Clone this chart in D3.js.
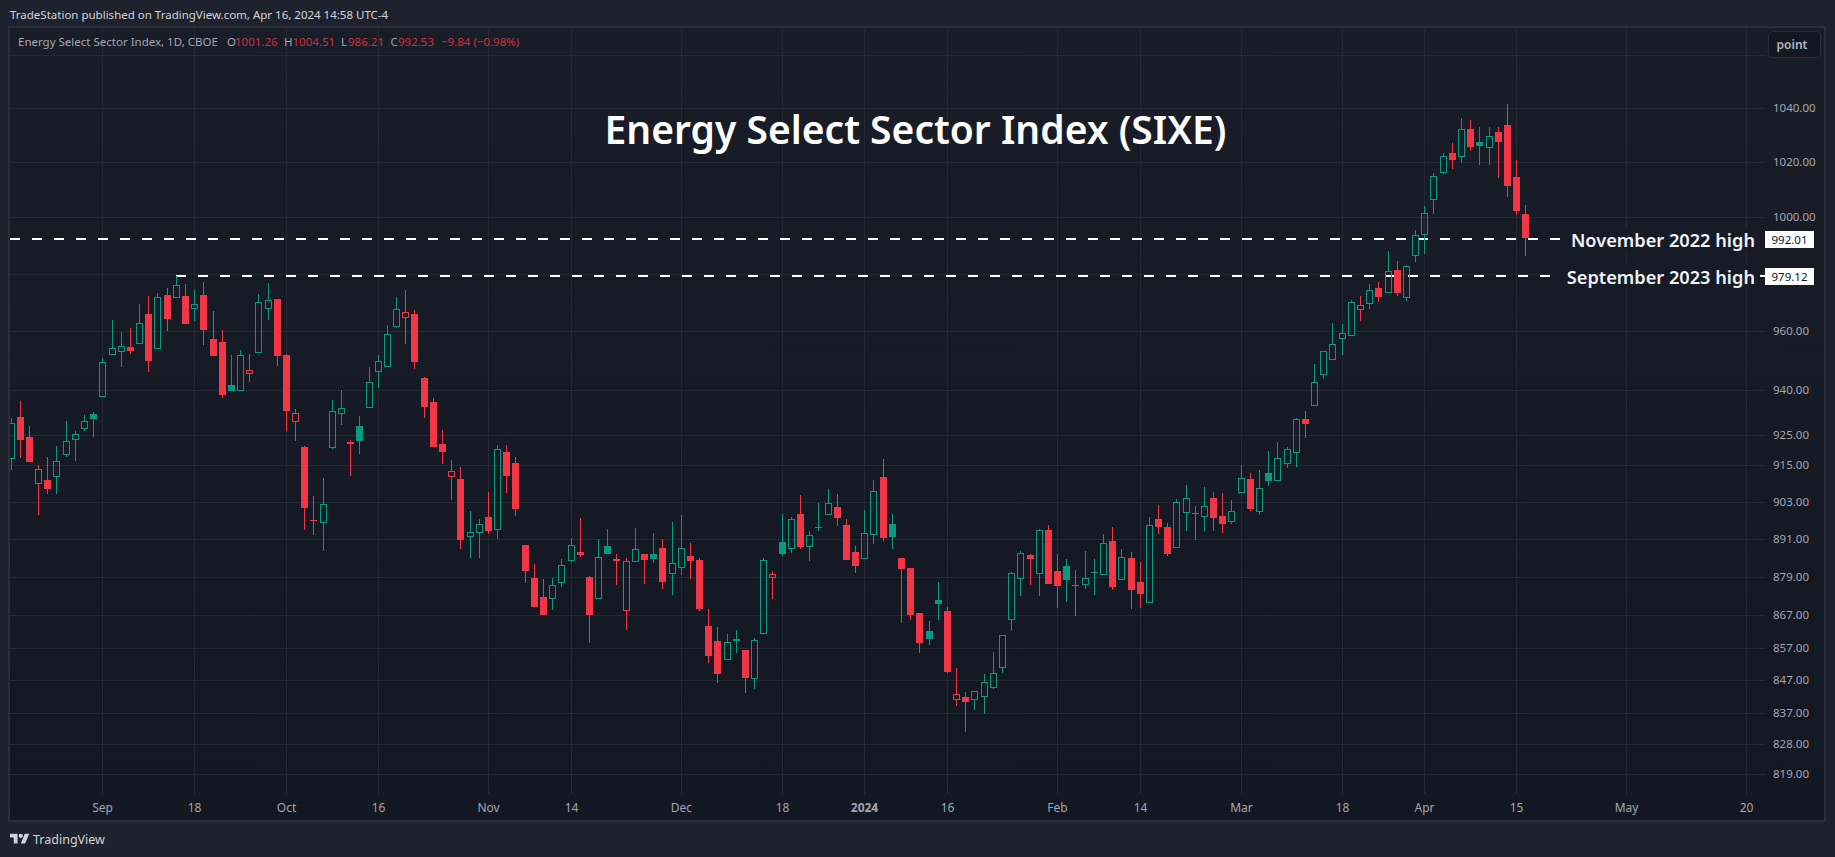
<!DOCTYPE html>
<html>
<head>
<meta charset="utf-8">
<script src="https://cdn.jsdelivr.net/npm/d3@7"></script>
<style>
  html, body { margin: 0; padding: 0; background: #1e222d; overflow: hidden; }
  svg { display: block; font-family: "Noto Sans", sans-serif; }
</style>
</head>
<body>
<div id="chart"></div>
<script>
// daily candles, Aug 2023 -> Apr 16 2024
const opens = [917.4,930.9,924.2,909.2,910.1,911.5,918.7,923.7,927.3,931.9,938.0,952.3,953.3,954.5,956.0,966.0,954.3,972.6,972.0,972.2,968.1,972.6,957.3,956.3,941.6,939.9,945.8,953.0,968.1,971.0,951.8,929.7,920.9,897.1,896.6,921.0,932.3,922.6,927.9,934.3,946.3,948.2,961.9,965.0,966.0,944.0,935.9,921.9,911.5,910.4,892.0,893.3,898.1,894.3,919.2,915.7,889.1,878.6,872.6,872.4,877.5,884.4,886.8,879.0,872.4,888.7,884.6,868.7,884.1,886.2,886.2,888.1,880.3,882.2,885.6,884.3,863.6,859.0,853.6,859.6,856.2,847.8,861.5,878.9,890.0,888.2,899.0,888.8,894.5,899.1,901.3,895.5,886.8,885.1,892.7,911.1,895.8,884.9,881.8,867.6,862.1,871.7,868.2,841.4,841.9,841.4,842.3,845.0,851.1,865.9,878.7,885.9,880.3,893.9,880.8,882.4,876.4,876.8,880.2,880.0,890.3,878.4,884.9,877.4,871.2,897.4,894.8,888.5,899.8,899.4,898.5,904.2,898.4,896.9,906.2,910.4,900.1,912.4,910.2,915.8,919.3,930.2,935.0,945.5,950.6,957.7,958.8,967.8,969.9,975.0,973.7,981.3,972.0,986.7,994.2,1006.7,1016.5,1023.3,1022.3,1032.2,1027.4,1025.7,1031.1,1033.7,1014.6,1001.26];
const highs = [930.4,936.4,927.9,915.0,917.5,921.2,929.6,926.2,931.6,932.6,950.7,963.8,959.7,961.0,969.4,972.2,973.1,975.0,979.2,976.4,974.3,977.1,967.0,960.3,951.8,953.5,952.2,972.9,976.7,971.0,952.2,933.6,921.1,904.9,910.8,936.6,939.9,923.2,931.2,947.7,951.8,962.1,971.9,974.3,967.3,944.3,937.2,926.6,916.6,914.3,900.0,897.4,906.2,921.6,921.6,917.6,889.1,883.1,878.3,878.6,884.6,891.3,897.7,879.3,891.0,894.2,886.2,884.9,894.5,886.2,892.9,891.0,896.5,898.7,889.7,884.9,868.9,863.3,861.1,862.4,856.2,859.9,884.9,880.8,899.0,898.1,905.2,893.5,902.6,907.2,905.5,897.4,888.7,900.3,910.1,917.0,899.0,884.9,881.8,867.6,865.2,877.4,869.5,850.7,843.4,843.9,848.9,855.6,861.0,880.5,887.2,886.2,894.2,895.5,886.2,884.6,881.2,887.2,884.6,892.6,894.8,887.8,886.8,883.7,898.1,902.0,896.1,903.9,908.5,901.6,907.8,906.2,905.9,903.5,915.0,912.4,913.4,919.6,922.5,920.9,930.4,932.9,948.7,953.1,962.8,962.4,970.8,972.2,976.4,977.1,988.0,984.5,983.1,995.5,1004.1,1016.0,1023.3,1027.0,1036.3,1035.6,1033.0,1033.0,1033.0,1041.5,1020.7,1004.51];
const lows = [913.2,917.3,916.0,898.7,905.5,905.5,917.6,916.3,926.2,924.2,938.0,952.3,947.7,952.2,956.0,946.0,954.3,960.0,972.0,962.4,963.5,955.2,951.5,937.2,939.6,939.6,942.6,953.0,963.8,948.1,926.2,922.9,893.9,892.3,887.2,920.2,928.2,911.4,918.6,934.3,940.6,948.2,961.0,955.6,947.0,930.6,920.9,915.3,903.6,887.8,884.9,884.9,892.6,891.0,905.9,898.4,877.1,869.5,867.0,868.6,875.8,883.7,885.3,858.4,872.4,886.2,876.4,862.4,884.1,876.7,883.4,875.2,873.2,879.6,878.3,868.2,852.2,846.2,853.6,855.3,843.1,844.3,861.5,872.0,885.6,886.5,887.8,884.0,893.5,899.1,895.2,884.3,880.2,885.1,889.4,890.3,887.8,864.5,865.5,855.3,857.8,865.5,849.2,839.2,831.4,838.0,836.8,844.3,849.2,862.1,872.9,876.4,872.9,876.7,869.2,871.0,866.7,875.2,873.3,880.0,874.8,878.4,868.9,869.2,871.2,892.6,885.6,888.5,893.6,890.6,893.6,893.6,892.9,895.8,905.9,900.0,898.7,908.2,910.2,914.0,914.3,923.9,935.0,943.7,950.6,951.8,958.3,963.5,967.7,970.1,973.7,972.2,970.5,984.1,986.9,1001.2,1015.7,1017.5,1019.6,1024.1,1018.9,1018.9,1014.2,1007.3,1000.8,986.21];
const closes = [928.8,923.2,916.0,913.6,907.2,916.2,922.8,925.1,929.4,930.2,949.3,954.1,954.8,953.2,962.7,949.8,971.7,964.2,975.9,962.4,969.3,960.3,951.5,938.2,939.6,951.7,946.6,970.0,970.7,951.5,932.9,932.1,901.0,896.8,902.2,932.8,933.8,921.9,922.9,942.8,949.7,958.9,967.6,966.5,949.4,934.2,920.9,919.2,912.9,890.6,893.4,895.7,893.5,920.4,911.4,900.7,880.9,869.5,867.0,876.6,882.9,889.0,885.9,867.0,885.2,886.2,884.0,883.9,887.7,884.3,884.6,877.4,883.3,888.0,884.0,868.9,854.4,848.9,858.6,859.0,847.7,859.2,884.2,879.8,886.2,897.3,888.4,892.2,894.8,902.5,897.7,884.3,882.4,892.8,906.4,891.3,891.6,881.5,867.0,858.4,859.6,870.4,849.5,842.7,840.4,843.9,846.4,849.1,861.0,880.1,886.7,884.6,893.8,876.7,876.0,878.0,876.1,878.8,880.5,889.6,875.8,885.2,874.8,873.6,895.4,894.8,886.2,902.8,904.1,899.0,901.8,897.7,895.8,899.9,910.7,900.6,907.4,909.8,917.2,920.4,930.1,928.6,942.8,953.1,955.5,959.2,970.0,969.0,974.2,971.9,980.8,973.3,982.6,993.6,1001.4,1014.8,1022.1,1020.7,1032.1,1025.6,1025.9,1029.5,1027.4,1011.3,1002.3,992.53];

const yGridValues = [1060,1040,1020,1000,980,960,940,925,915,903,891,879,867,857,847,837,828,819];
const yLabelValues = [1040,1020,1000,960,940,925,915,903,891,879,867,857,847,837,828,819];
const xTickBars = [10,20,30,40,52,61,73,84,93,102,114,123,134,145,154,164,176,189];
const xTickLabels = ["Sep","18","Oct","16","Nov","14","Dec","18","2024","16","Feb","14","Mar","18","Apr","15","May","20"];
const levelValues = [992.01,979.12];
const levelNames = ["November 2022 high","September 2023 high"];
const levelStartBar = [null,18];

const width = 1835, height = 857;
const red = "#f23645", green = "#089981";

const x = d3.scaleLinear().domain([0,165]).range([10.55,1525.25]);
const y = d3.scaleLog().domain([819,1040]).range([774,108]);
const snap = (v) => Math.round(v);

const svg = d3.select("#chart").append("svg").attr("width",width).attr("height",height);

const defs = svg.append("defs");
const panelGrad = defs.append("linearGradient").attr("id","panel_fill")
  .attr("x1",0).attr("y1",0).attr("x2",0).attr("y2",1);
panelGrad.append("stop").attr("offset","0").attr("stop-color","#191d28");
panelGrad.append("stop").attr("offset","1").attr("stop-color","#131722");
defs.append("clipPath").attr("id","plot_clip").append("rect")
  .attr("x",10).attr("y",28).attr("width",1755).attr("height",793);

svg.append("rect").attr("width",width).attr("height",height).attr("fill","#1e222d");
svg.append("rect").attr("x",9).attr("y",27).attr("width",1816).attr("height",794)
  .attr("fill","url(#panel_fill)").attr("stroke","#2a2e39").attr("stroke-width",2);

// grid
const grid = svg.append("g").attr("stroke","#242833").attr("stroke-width",1);
grid.selectAll(".h").data(yGridValues).enter().append("line")
  .attr("x1",10).attr("x2",1765)
  .attr("y1",(d)=>snap(y(d))+0.5).attr("y2",(d)=>snap(y(d))+0.5);
grid.selectAll(".v").data(xTickBars).enter().append("line")
  .attr("x1",(d)=>snap(x(d))+0.5).attr("x2",(d)=>snap(x(d))+0.5)
  .attr("y1",28).attr("y2",794);

// level lines go under the candles
const levels = svg.append("g");
levels.selectAll("line").data(levelValues).enter().append("line")
  .attr("x1",(d,i)=> levelStartBar[i]===null ? 10 : snap(x(levelStartBar[i])))
  .attr("x2",1765)
  .attr("y1",(d)=>Math.floor(y(d))).attr("y2",(d)=>Math.floor(y(d)))
  .attr("stroke","#fff").attr("stroke-width",2).attr("stroke-dasharray","10 12");

// candles, wicks stop at the body so hollow ones stay see-through
const candles = svg.append("g").attr("clip-path","url(#plot_clip)")
  .selectAll("g").data(d3.range(closes.length)).enter().append("g")
  .each(function(i){
    const g = d3.select(this);
    const col = (i===0 || closes[i]>=closes[i-1]) ? green : red;
    const cx = snap(x(i));
    const top = snap(y(Math.max(opens[i],closes[i])));
    const bot = snap(y(Math.min(opens[i],closes[i])));
    const hi = snap(y(highs[i]));
    const lo = snap(y(lows[i]));
    if (top>hi) g.append("rect").attr("x",cx).attr("width",1).attr("y",hi).attr("height",top-hi).attr("fill",col);
    if (lo>bot) g.append("rect").attr("x",cx).attr("width",1).attr("y",bot).attr("height",lo-bot).attr("fill",col);
    if (closes[i]>=opens[i] && bot-top>=2) {
      g.append("rect").attr("x",cx-2.5).attr("y",top+0.5).attr("width",6).attr("height",bot-top)
        .attr("fill","none").attr("stroke",col).attr("stroke-width",1);
    } else {
      g.append("rect").attr("x",cx-3).attr("y",top).attr("width",7).attr("height",Math.max(1,bot-top))
        .attr("fill",col);
    }
  });

// level labels, masked out of the dashed line
const levelRight = svg.append("g");
levelNames.forEach((name,i)=>{
  const ly = Math.floor(y(levelValues[i]));
  levelRight.append("rect").attr("x",i===0?1562:1552).attr("y",ly-11)
    .attr("width",i===0?203:208).attr("height",22).attr("fill","#171b26");
  levelRight.append("text").attr("x",1755).attr("y",ly+7.5).attr("text-anchor","end")
    .attr("fill","#f0f3fa").attr("font-size",18.2).attr("font-weight",600).text(name);
  levelRight.append("rect").attr("x",1765).attr("y",ly-8).attr("width",49).attr("height",17).attr("fill","#fff");
  levelRight.append("text").attr("x",1789.5).attr("y",ly+4.5).attr("text-anchor","middle")
    .attr("fill","#131722").attr("font-size",11.5).text(levelValues[i].toFixed(2));
});

// axes labels
svg.append("g").selectAll("text").data(yLabelValues).enter().append("text")
  .attr("x",1773).attr("y",(d)=>y(d)+4)
  .attr("fill","#a3a6af").attr("font-size",11.5).text((d)=>d.toFixed(2));
svg.append("g").selectAll("text").data(xTickBars).enter().append("text")
  .attr("x",(d)=>snap(x(d))+0.5).attr("y",812).attr("text-anchor","middle")
  .attr("fill","#a3a6af").attr("font-size",12)
  .attr("font-weight",(d,i)=>xTickLabels[i]==="2024"?700:400)
  .text((d,i)=>xTickLabels[i]);

// title and legend
svg.append("text").attr("x",915.5).attr("y",144).attr("text-anchor","middle")
  .attr("fill","#fff").attr("font-size",39).attr("font-weight",600)
  .text("Energy Select Sector Index (SIXE)");
svg.append("text").attr("x",10).attr("y",19).attr("fill","#d1d4dc").attr("font-size",11.5)
  .text("TradeStation published on TradingView.com, Apr 16, 2024 14:58 UTC-4");

const legendBits = [
  [18,"Energy Select Sector Index, 1D, CBOE","#a3a6af"],
  [227,"O","#a3a6af"],[235,"1001.26","#cc2f3c"],
  [284,"H","#a3a6af"],[292.5,"1004.51","#cc2f3c"],
  [341,"L","#a3a6af"],[348,"986.21","#cc2f3c"],
  [390.5,"C","#a3a6af"],[398,"992.53","#cc2f3c"],
  [441,"\u22129.84 (\u22120.98%)","#cc2f3c"]
];
svg.append("g").selectAll("text").data(legendBits).enter().append("text")
  .attr("x",(d)=>d[0]).attr("y",46).attr("fill",(d)=>d[2]).attr("font-size",11.5)
  .text((d)=>d[1]);

// point button
svg.append("rect").attr("x",1768.5).attr("y",31.5).attr("width",52).attr("height",26).attr("rx",4)
  .attr("fill","#131722").attr("stroke","#2a2e39");
svg.append("text").attr("x",1792).attr("y",49).attr("text-anchor","middle")
  .attr("fill","#b2b5be").attr("font-size",12).attr("font-weight",600).text("point");

// TradingView logo
const logo = svg.append("g").attr("transform","translate(10,831.5) scale(0.54)").attr("fill","#d1d4dc");
logo.append("path").attr("d","M14 22H7V11H0V4h14v18zM28 22h-8l7.5-18h8L28 22z");
logo.append("circle").attr("cx",20).attr("cy",8).attr("r",4);
svg.append("text").attr("x",33).attr("y",844).attr("fill","#d1d4dc").attr("font-size",12.5).text("TradingView");
</script>
</body>
</html>
